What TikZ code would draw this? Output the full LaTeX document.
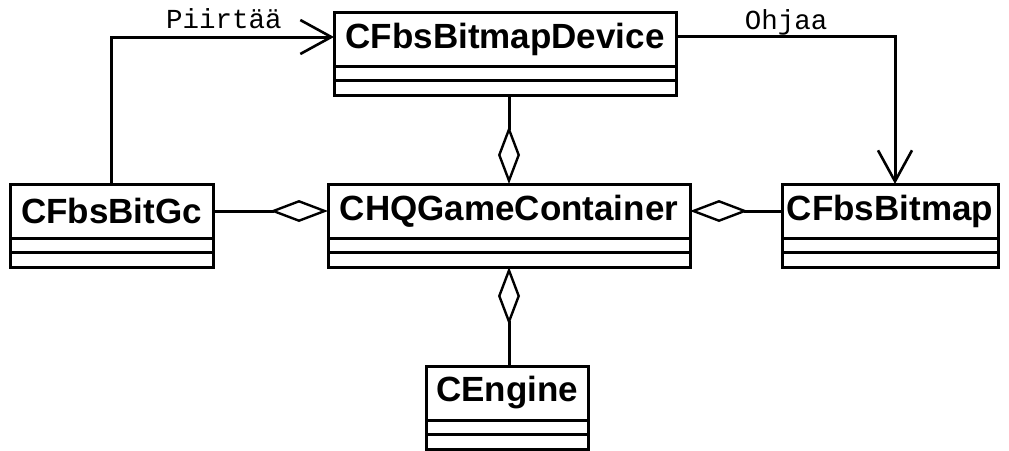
\documentclass[tikz,border=0pt]{standalone}
\usepackage{fontspec}
\setsansfont{Liberation Sans}
\setmonofont{Liberation Mono}
\usetikzlibrary{arrows.meta}

\begin{document}
\begin{tikzpicture}[x=1pt,y=-1pt,
  cls/.style={draw, line width=3pt, minimum height=54pt, inner sep=0pt, outer sep=0pt,
    font=\sffamily\bfseries\fontsize{35}{35}\selectfont},
  comp/.style={draw, line width=3pt, minimum height=14.5pt, inner sep=0pt, outer sep=0pt, anchor=north},
  link/.style={line width=3pt},
  agg/.style={link, {Diamond[open, length=58pt, width=22pt, line width=2.4pt]}-},
  nav/.style={link, -{Straight Barb[length=31pt, width=34pt, line width=2.6pt]}},
  lbl/.style={font=\ttfamily\fontsize{27.5}{27.5}\selectfont, inner sep=0pt, anchor=base}]

\useasboundingbox (0,0) rectangle (1009,450);

% classes: name header plus two empty compartments
\node[cls, minimum width=342pt] (dev) at (505,39) {CFbsBitmapDevice};
\node[comp, minimum width=342pt] (dev1) at (dev.south) {};
\node[comp, minimum width=342pt] (dev2) at (dev1.south) {};

\node[cls, minimum width=203pt] (gc) at (111.5,211) {CFbsBitGc};
\node[comp, minimum width=203pt] (gc1) at (gc.south) {};
\node[comp, minimum width=203pt] (gc2) at (gc1.south) {};

\node[cls, minimum width=362pt] (hq) at (509,211) {CHQGameContainer};
\node[comp, minimum width=362pt] (hq1) at (hq.south) {};
\node[comp, minimum width=362pt] (hq2) at (hq1.south) {};

\node[cls, minimum width=216pt] (bmp) at (890,211) {CFbsBitmap};
\node[comp, minimum width=216pt] (bmp1) at (bmp.south) {};
\node[comp, minimum width=216pt] (bmp2) at (bmp1.south) {};

\node[cls, minimum width=162pt] (eng) at (507,393) {CEngine};
\node[comp, minimum width=162pt] (eng1) at (eng.south) {};
\node[comp, minimum width=162pt] (eng2) at (eng1.south) {};

% aggregations into the container
\draw[agg] (hq.north |- hq.north) -- (hq.north |- dev2.south);
\draw[agg] (hq.west) -- (gc.east);
\draw[agg] (hq.east) -- (bmp.west);
\draw[agg] (hq2.south) -- (hq2.south |- eng.north);

% navigable associations
\draw[nav] (gc.north) |- ([yshift=2pt]dev.west);
\draw[nav] ([yshift=3pt]dev.east) -| ([xshift=5pt]bmp.north);

\node[lbl] (piirtaa) at (224,28) {Piirtää};
\node[lbl] (ohjaa) at (786,29) {Ohjaa};
\end{tikzpicture}
\end{document}
